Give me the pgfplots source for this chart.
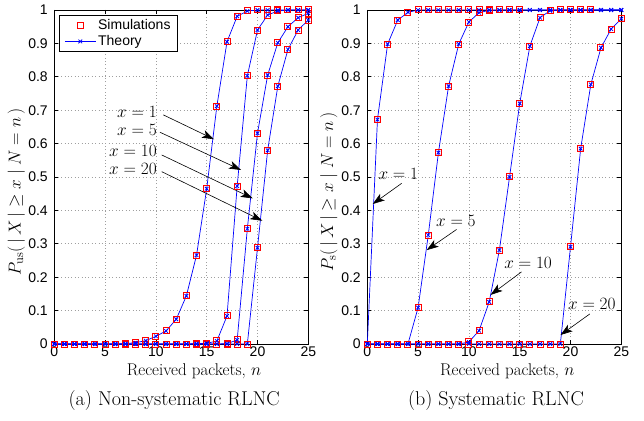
\documentclass[border=0pt]{standalone}
\usepackage{fontspec}
\usepackage{pgfplots}
\usepackage{pgfplotstable}
\pgfplotsset{compat=1.18}
\usetikzlibrary{arrows.meta}
\newfontfamily\arial{Liberation Sans}

\pgfplotstableread{
n x1 x5 x10 x20
0 0 0 0 0
1 0 0 0 0
2 0 0 0 0
3 0 0 0 0
4 0 0 0 0
5 0 0 0 0
6 0 0 0 0
7 0.001 0 0 0
8 0.004 0 0 0
9 0.010 0 0 0
10 0.023 0 0 0
11 0.039 0 0 0
12 0.074 0 0 0
13 0.144 0 0 0
14 0.266 0.001 0 0
15 0.465 0.002 0 0
16 0.712 0.009 0 0
17 0.905 0.084 0.001 0
18 0.981 0.473 0.012 0
19 0.997 0.803 0.345 0
20 1 0.940 0.631 0.288
21 1 0.985 0.805 0.580
22 1 0.997 0.902 0.772
23 1 1 0.950 0.882
24 1 1 0.977 0.940
25 1 1 0.990 0.970
}\nsdata

\pgfplotstableread{
n x1 x5 x10 x20
0 0 0 0 0
1 0.672 0 0 0
2 0.898 0 0 0
3 0.970 0 0 0
4 0.993 0 0 0
5 1 0.109 0 0
6 1 0.326 0 0
7 1 0.573 0 0
8 1 0.772 0 0
9 1 0.898 0 0
10 1 0.964 0.006 0
11 1 0.992 0.040 0
12 1 0.999 0.126 0
13 1 1 0.281 0
14 1 1 0.500 0
15 1 1 0.720 0
16 1 1 0.892 0
17 1 1 0.977 0
18 1 1 0.998 0
19 1 1 1 0
20 1 1 1 0.291
21 1 1 1 0.585
22 1 1 1 0.777
23 1 1 1 0.887
24 1 1 1 0.943
25 1 1 1 0.974
}\sdata

\tikzset{
  arr/.style={-{Stealth[length=12pt, width=8pt, inset=3pt]}, line width=0.6pt, black},
  ann/.style={font=\fontsize{18}{21}\selectfont, inner sep=0pt},
}
\pgfplotsset{
  myax/.style={
    anchor=south west, scale only axis, width=254pt, height=334pt,
    xmin=0, xmax=25, ymin=0, ymax=1,
    xtick={0,5,10,15,20,25},
    ytick={0,0.1,0.2,0.3,0.4,0.5,0.6,0.7,0.8,0.9,1},
    grid=major,
    grid style={gray!75, line width=0.6pt, dash pattern=on 0.8pt off 2.6pt},
    axis line style={line width=0.9pt},
    tick style={line width=0.8pt, black},
    major tick length=4pt,
    tick align=inside,
    clip=false,
    /pgf/number format/assume math mode=true,
    tick label style={font=\arial\fontsize{14}{16}\selectfont},
    xticklabel style={yshift=1pt},
    yticklabel style={xshift=-3pt},
    xlabel style={font=\fontsize{17}{20}\selectfont},
    ylabel style={font=\fontsize{18}{21}\selectfont},
  },
  sim/.style={only marks, mark=square, red, mark size=3pt, line width=1pt, forget plot},
  thy/.style={blue, mark=x, mark size=2.6pt, line width=0.7pt, mark options={line width=0.8pt}, forget plot},
}

\begin{document}
\begin{tikzpicture}
\useasboundingbox (0,0) rectangle (644pt,420pt);

\begin{axis}[myax, at={(54.3pt,76pt)},
  xlabel={Received packets, $n$},
  ylabel={$P_{\mathrm{us}}(\,|\,X\,|\geq x \;|\; N=n\,)$},
  xlabel style={at={(axis description cs:0.55,-0.081)}, anchor=center},
  ylabel style={at={(axis description cs:-0.15,0.455)}, anchor=center},
  legend style={at={(axis description cs:0.0185,0.985)}, anchor=north west,
    draw=black, line width=0.9pt, fill=white,
    font=\arial\fontsize{14}{16}\selectfont, inner xsep=5pt, inner ysep=2pt,
    row sep=0.5pt},
  legend cell align=left,
]
\addlegendimage{legend image code/.code={\draw[draw=red, line width=1pt] plot[mark=square, mark size=3pt, only marks, mark options={draw=red, fill=none}] coordinates {(15.5pt,0pt)};}}
\addlegendentry{Simulations}
\addlegendimage{legend image code/.code={\draw[draw=blue, line width=0.7pt] (0pt,0pt) -- (31pt,0pt); \draw[draw=blue, line width=0.8pt] plot[mark=x, mark size=2.6pt, only marks, mark options={draw=blue}] coordinates {(15.5pt,0pt)};}}
\addlegendentry{Theory}

\addplot[sim] table[x=n, y=x1] {\nsdata};
\addplot[sim] table[x=n, y=x5] {\nsdata};
\addplot[sim] table[x=n, y=x10] {\nsdata};
\addplot[sim] table[x=n, y=x20] {\nsdata};
\addplot[thy] table[x=n, y=x1] {\nsdata};
\addplot[thy] table[x=n, y=x5] {\nsdata};
\addplot[thy] table[x=n, y=x10] {\nsdata};
\addplot[thy] table[x=n, y=x20] {\nsdata};

\node[ann, anchor=east] at (axis cs:10.1,0.695) {$x=1$};
\node[ann, anchor=east] at (axis cs:10.1,0.641) {$x=5$};
\node[ann, anchor=east] at (axis cs:10.1,0.579) {$x=10$};
\node[ann, anchor=east] at (axis cs:10.1,0.524) {$x=20$};
\draw[arr] (axis cs:10.73,0.686) -- (axis cs:15.72,0.613);
\draw[arr] (axis cs:10.40,0.634) -- (axis cs:18.38,0.521);
\draw[arr] (axis cs:10.57,0.566) -- (axis cs:19.53,0.436);
\draw[arr] (axis cs:10.57,0.516) -- (axis cs:20.47,0.369);
\end{axis}

\begin{axis}[myax, at={(367.3pt,76pt)},
  xlabel={Received packets, $n$},
  ylabel={$P_{\mathrm{s}}(\,|\,X\,|\geq x \;|\; N=n\,)$},
  xlabel style={at={(axis description cs:0.551,-0.081)}, anchor=center},
  ylabel style={at={(axis description cs:-0.152,0.455)}, anchor=center},
]
\addplot[sim, restrict x to domain=0:15] table[x=n, y=x1] {\sdata};
\addplot[sim, restrict x to domain=0:15] table[x=n, y=x5] {\sdata};
\addplot[sim, restrict x to domain=0:22] table[x=n, y=x10] {\sdata};
\addplot[sim] table[x=n, y=x20] {\sdata};
\addplot[thy] table[x=n, y=x1] {\sdata};
\addplot[thy] table[x=n, y=x5] {\sdata};
\addplot[thy] table[x=n, y=x10] {\sdata};
\addplot[thy] table[x=n, y=x20] {\sdata};

\node[ann] at (axis cs:3.05,0.509) {$x=1$};
\node[ann] at (axis cs:8.72,0.369) {$x=5$};
\node[ann] at (axis cs:15.83,0.242) {$x=10$};
\node[ann] at (axis cs:22.10,0.120) {$x=20$};
\draw[arr] (axis cs:3.38,0.481) -- (axis cs:0.53,0.419);
\draw[arr] (axis cs:8.79,0.343) -- (axis cs:5.84,0.281);
\draw[arr] (axis cs:15.18,0.216) -- (axis cs:12.13,0.147);
\draw[arr] (axis cs:21.90,0.090) -- (axis cs:19.02,0.027);
\end{axis}

\node[font=\fontsize{20}{23}\selectfont] at (174.2pt,19pt) {(a) Non-systematic RLNC};
\node[font=\fontsize{20}{23}\selectfont] at (496pt,19pt) {(b) Systematic RLNC};
\end{tikzpicture}
\end{document}
